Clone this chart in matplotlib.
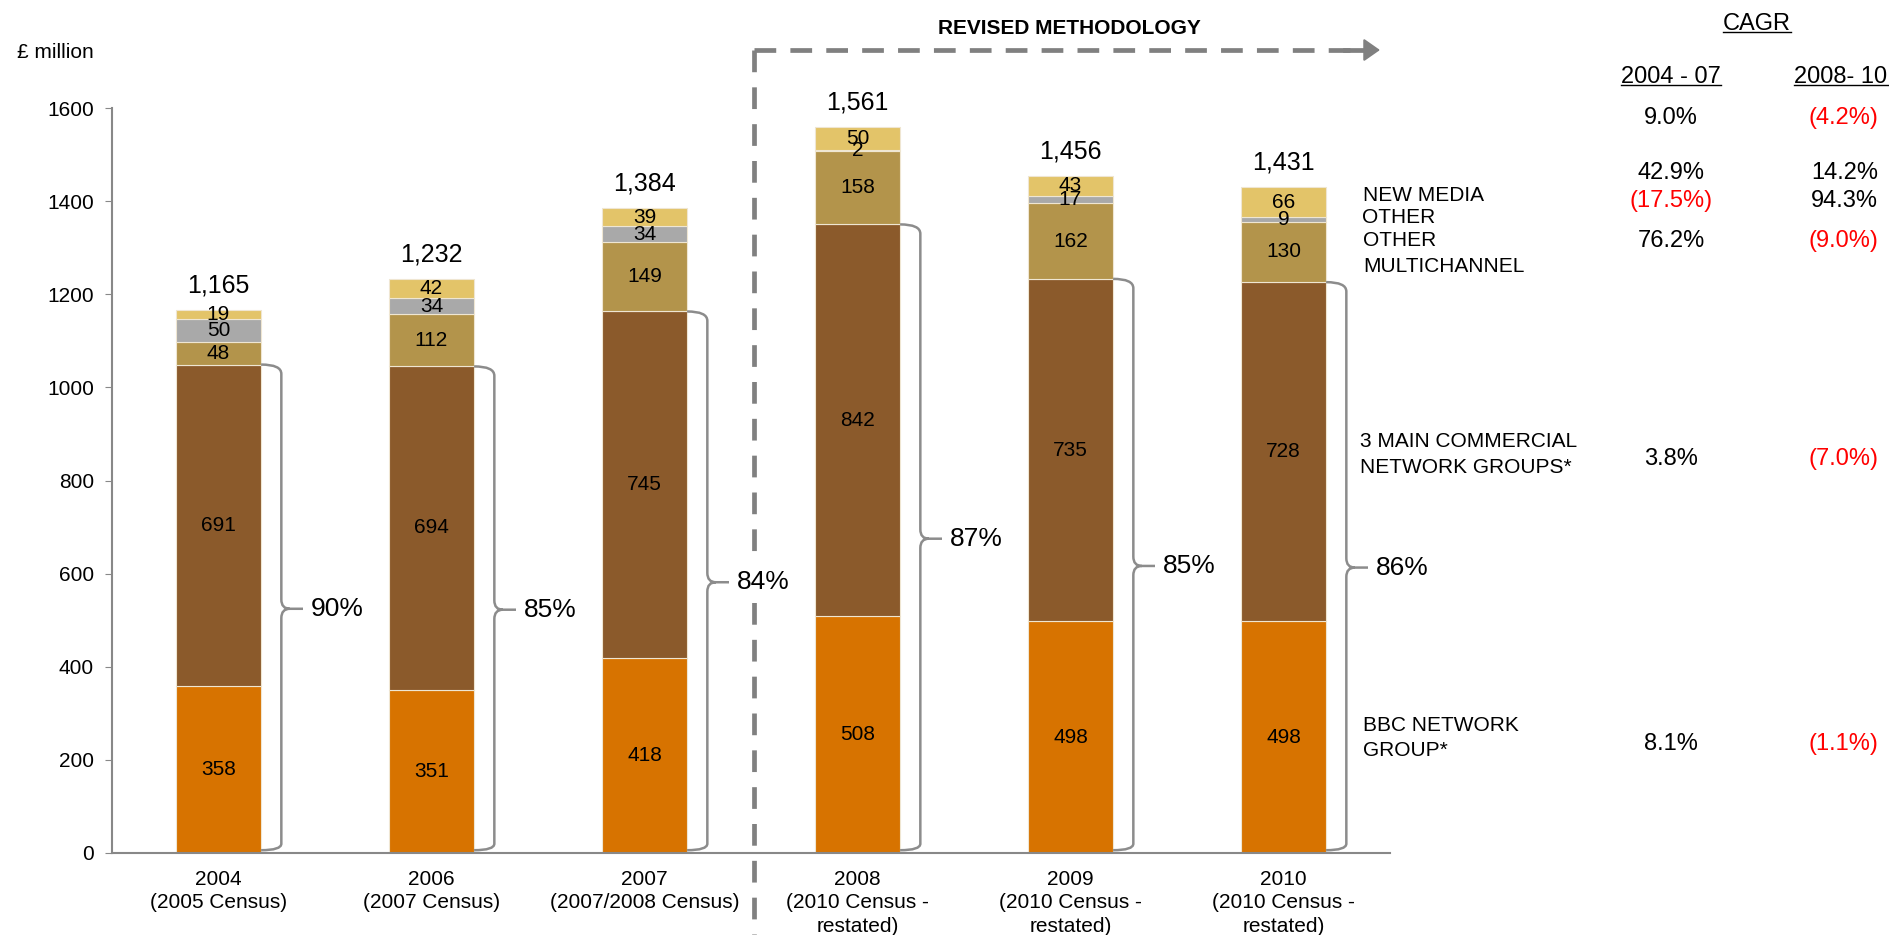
import matplotlib
matplotlib.use('Agg')
import matplotlib.pyplot as plt
from matplotlib.path import Path
from matplotlib.patches import PathPatch
from matplotlib.lines import Line2D
import numpy as np

plt.rcParams['font.family'] = ['Liberation Sans', 'DejaVu Sans']

# data (GBP million)
years = ['2004\n(2005 Census)', '2006\n(2007 Census)', '2007\n(2007/2008 Census)',
         '2008\n(2010 Census -\nrestated)', '2009\n(2010 Census -\nrestated)',
         '2010\n(2010 Census -\nrestated)']
bbc = [358, 351, 418, 508, 498, 498]
commercial = [691, 694, 745, 842, 735, 728]
other_multi = [48, 112, 149, 158, 162, 130]
other = [50, 34, 34, 2, 17, 9]
new_media = [19, 42, 39, 50, 43, 66]
totals = ['1,165', '1,232', '1,384', '1,561', '1,456', '1,431']
share = ['90%', '85%', '84%', '87%', '85%', '86%']

cagr_0407 = ['9.0%', '42.9%', '(17.5%)', '76.2%', '3.8%', '8.1%']
cagr_0810 = ['(4.2%)', '14.2%', '94.3%', '(9.0%)', '(7.0%)', '(1.1%)']

W, H = 1889, 935


def fx(px):
    return px / W


def fy(py):
    return 1 - py / H


fig = plt.figure(figsize=(W / 100, H / 100), dpi=100)
ax = fig.add_axes([fx(112), fy(853), (1390 - 112) / W, (853 - 108) / H])
ax.patch.set_visible(False)

x = np.arange(len(years))
width = 0.40
series = [bbc, commercial, other_multi, other, new_media]
colors = ['#D77300', '#8B5A2B', '#B3944B', '#A9A9A9', '#E3C469']
bottom = np.zeros(len(years))
for vals, c in zip(series, colors):
    ax.bar(x, vals, width, bottom=bottom, color=c, edgecolor='#EFE6D2', linewidth=0.8)
    for xi, v, b in zip(x, vals, bottom):
        ax.text(xi, b + v / 2, str(v), ha='center', va='center', fontsize=15)
    bottom = bottom + np.array(vals)

for xi, t, lab in zip(x, bottom, totals):
    ax.annotate(lab, (xi, t), xytext=(0, 9), textcoords='offset points',
                ha='center', va='bottom', fontsize=18)

# curly brackets around BBC + commercial
main = np.array(bbc) + np.array(commercial)
gray = '#8C8C8C'
for xi, top, s in zip(x, main, share):
    x0 = xi + width / 2
    xv = x0 + 0.095
    ym = top / 2
    r = 20
    verts = [(x0, top), (xv, top), (xv, top - r), (xv, ym + r), (xv, ym), (xv + 0.04, ym),
             (xv + 0.115, ym),
             (xv + 0.04, ym), (xv, ym), (xv, ym - r), (xv, r), (xv, 6), (x0, 6)]
    codes = [Path.MOVETO, Path.CURVE3, Path.CURVE3, Path.LINETO, Path.CURVE3, Path.CURVE3,
             Path.LINETO,
             Path.MOVETO, Path.CURVE3, Path.CURVE3, Path.LINETO, Path.CURVE3, Path.CURVE3]
    ax.add_patch(PathPatch(Path(verts, codes), facecolor='none', edgecolor=gray, lw=1.8,
                           clip_on=False))
    ax.text(xv + 0.14, ym, s, ha='left', va='center', fontsize=19,
            bbox=dict(facecolor='white', edgecolor='none', pad=6))

ax.set_xlim(-0.5, 5.5)
ax.set_ylim(0, 1600)
ax.set_yticks(range(0, 1601, 200))
ax.set_xticks(x)
ax.set_xticklabels(years, fontsize=15, linespacing=1.3)
ax.tick_params(axis='x', length=0, pad=12)
ax.tick_params(axis='y', length=5, color='#888888', labelsize=15, pad=8)
for side in ['top', 'right']:
    ax.spines[side].set_visible(False)
for side in ['left', 'bottom']:
    ax.spines[side].set_color('#888888')
    ax.spines[side].set_linewidth(1.5)

fig.text(fx(17), fy(52), '£ million', ha='left', va='center', fontsize=15)

# revised methodology marker (drawn under the axes so the 84% label masks it)
fig.text(fx(1069), fy(28), 'REVISED METHODOLOGY', ha='center', va='center',
         fontsize=15, fontweight='bold')
dash_y = 50
vline = Line2D([fx(753.6), fx(753.6)], [fy(dash_y), fy(935)], transform=fig.transFigure,
               color='#808080', lw=3.4, dashes=(4.6, 3.2), zorder=-1)
hline = Line2D([fx(753.6), fx(1360)], [fy(dash_y), fy(dash_y)], transform=fig.transFigure,
               color='#808080', lw=3.4, dashes=(4.6, 3.0), zorder=-1)
fig.add_artist(vline)
fig.add_artist(hline)
fig.add_artist(Line2D([fx(1345), fx(1366)], [fy(dash_y), fy(dash_y)],
                      transform=fig.transFigure, color='#808080', lw=3.4, zorder=-1))
ax.annotate('', xy=(fx(1380), fy(dash_y)), xycoords='figure fraction',
            xytext=(fx(1362), fy(dash_y)), textcoords='figure fraction',
            arrowprops=dict(arrowstyle='-|>,head_length=1.0,head_width=0.7',
                            mutation_scale=10, color='#808080', lw=1.5,
                            shrinkA=0, shrinkB=0))

# series labels
labels = [('NEW MEDIA', 1363, 195.7), ('OTHER', 1362, 217.7), ('OTHER', 1363, 240.7),
          ('MULTICHANNEL', 1363, 266.7), ('3 MAIN COMMERCIAL', 1360, 441.7),
          ('NETWORK GROUPS*', 1360, 467.7), ('BBC NETWORK', 1363, 725.7),
          ('GROUP*', 1363, 750.7)]
for txt, px, py in labels:
    fig.text(fx(px), fy(py), txt, ha='left', va='center', fontsize=15)

# CAGR table
heads = [fig.text(fx(1757), fy(24), 'CAGR', ha='center', va='center', fontsize=17),
         fig.text(fx(1671), fy(76.7), '2004 - 07', ha='center', va='center', fontsize=17),
         fig.text(fx(1841), fy(76.7), '2008- 10', ha='center', va='center', fontsize=17)]
row_y = [118.3, 173.3, 201, 240.7, 459.3, 744.3]
for ry, a, b in zip(row_y, cagr_0407, cagr_0810):
    fig.text(fx(1671), fy(ry), a, ha='center', va='center', fontsize=17,
             color='red' if a.startswith('(') else 'black')
    fig.text(fx(1878), fy(ry), b, ha='right', va='center', fontsize=17,
             color='red' if b.startswith('(') else 'black')

fig.canvas.draw()
rend = fig.canvas.get_renderer()
for t in heads:
    bb = t.get_window_extent(rend).transformed(fig.transFigure.inverted())
    fig.add_artist(Line2D([bb.x0, bb.x1], [bb.y0 + 3 / H, bb.y0 + 3 / H],
                          transform=fig.transFigure, color='black', lw=1.0))

fig.savefig('out.png', dpi=100)
